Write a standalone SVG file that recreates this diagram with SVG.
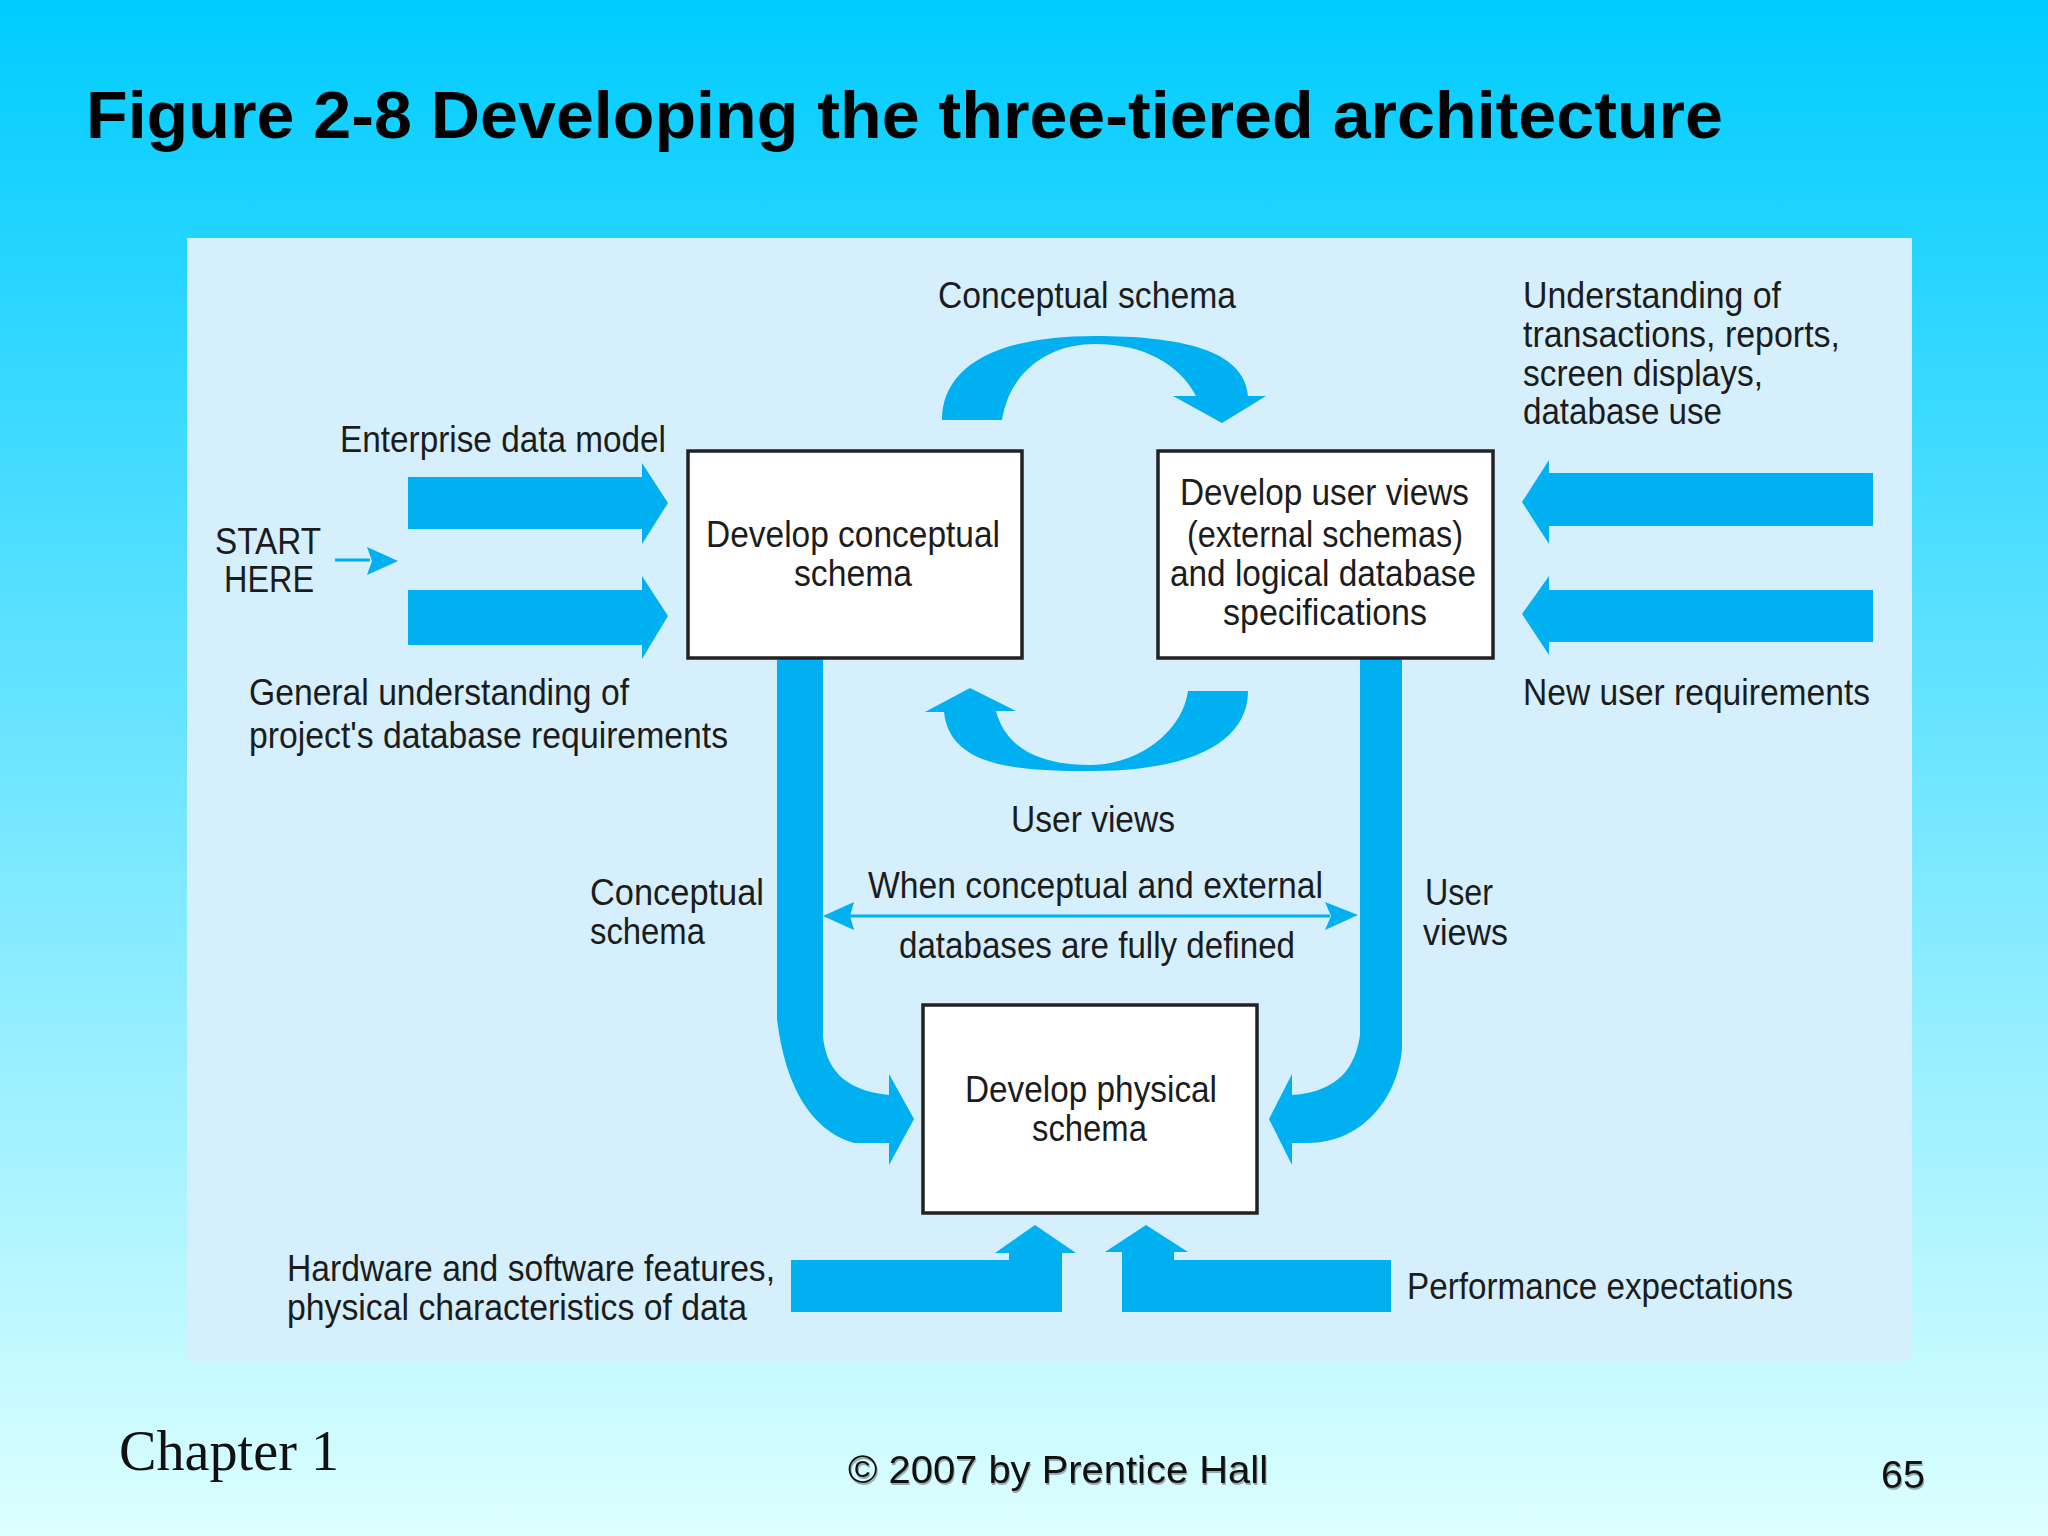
<svg xmlns="http://www.w3.org/2000/svg" width="2048" height="1536" viewBox="0 0 2048 1536">
<defs>
<linearGradient id="bg" x1="0" y1="0" x2="0" y2="1"><stop offset="0" stop-color="#00CCFF"/><stop offset="1" stop-color="#DDFFFF"/></linearGradient>
</defs>
<style>
.box{fill:#fff;stroke:#222;stroke-width:3.5}
.a{fill:#00B0F0;stroke:none}
.l{fill:none;stroke:#00B0F0;stroke-width:3}
text{font-family:"Liberation Sans",Arial,sans-serif;fill:#1c1c1c}
.t{font-size:36px}
.s{fill:#111;filter:drop-shadow(1px 2px 0 #9aa)}
</style>
<rect width="2048" height="1536" fill="url(#bg)"/>
<rect x="187" y="238" width="1725" height="1124" fill="#D5EFFD"/>
<text x="86" y="138" font-size="66" font-weight="700" style="fill:#000" textLength="1637" lengthAdjust="spacingAndGlyphs">Figure 2-8 Developing the three-tiered architecture</text>
<g id="connectors">
<path class="a" d="M408 477H642V463L668 503L642 544V529H408Z"/>
<path class="a" d="M408 590H642V576L668 616L642 659V645H408Z"/>
<path class="l" d="M335 560H370"/>
<path class="a" d="M367 547L398 561L367 575L372 561Z"/>
<path class="a" d="M1873 473H1549V460L1522 502L1549 544V526H1873Z"/>
<path class="a" d="M1873 590H1549V576L1522 614L1549 655V642H1873Z"/>
<path class="a" d="M942 420C942 370 990 336 1095 336C1180 336 1245 350 1248 396H1266L1222 423L1173 396H1196C1180 365 1145 344 1095 344C1050 344 1010 370 1002 420Z"/>
<path class="a" d="M1188 691H1248C1248 735 1205 771 1090 771C1010 771 950 765 944 712H925L970 688L1016 711H996C1005 745 1035 765 1090 765C1140 765 1183 730 1188 691Z"/>
<path class="a" d="M777 658H823V1037C826 1065 840 1090 889 1095V1074L914 1119L889 1165V1143H854C810 1130 785 1085 777 1019Z"/>
<path class="a" d="M1402 658H1360V1035C1356 1065 1340 1092 1292 1095V1074L1269 1119L1292 1165V1143H1307C1365 1143 1398 1095 1402 1049Z"/>
<path class="l" d="M850 916H1330"/>
<path class="a" d="M823 916L854 902L850 916L854 930Z"/>
<path class="a" d="M1358 915L1325 902L1331 916L1325 930Z"/>
<path class="a" d="M791 1260H1009V1253H995L1035 1225L1076 1253H1062V1312H791Z"/>
<path class="a" d="M1391 1260H1174V1252H1188L1146 1225L1105 1252H1122V1312H1391Z"/>
</g>
<g id="conceptual">
<rect class="box" x="688" y="451" width="334" height="207"/>
<text class="t" x="706" y="547" textLength="294" lengthAdjust="spacingAndGlyphs">Develop conceptual</text>
<text class="t" x="794" y="586" textLength="118" lengthAdjust="spacingAndGlyphs">schema</text>
</g>
<g id="userviews">
<rect class="box" x="1158" y="451" width="335" height="207"/>
<text class="t" x="1180" y="505" textLength="289" lengthAdjust="spacingAndGlyphs">Develop user views</text>
<text class="t" x="1187" y="547" textLength="276" lengthAdjust="spacingAndGlyphs">(external schemas)</text>
<text class="t" x="1170" y="586" textLength="306" lengthAdjust="spacingAndGlyphs">and logical database</text>
<text class="t" x="1223" y="625" textLength="204" lengthAdjust="spacingAndGlyphs">specifications</text>
</g>
<g id="physical">
<rect class="box" x="923" y="1005" width="334" height="208"/>
<text class="t" x="965" y="1102" textLength="252" lengthAdjust="spacingAndGlyphs">Develop physical</text>
<text class="t" x="1032" y="1141" textLength="115" lengthAdjust="spacingAndGlyphs">schema</text>
</g>
<g id="labels">
<text class="t" x="340" y="452" textLength="326" lengthAdjust="spacingAndGlyphs">Enterprise data model</text>
<text class="t" x="215" y="554" textLength="106" lengthAdjust="spacingAndGlyphs">START</text>
<text class="t" x="224" y="592" textLength="90" lengthAdjust="spacingAndGlyphs">HERE</text>
<text class="t" x="249" y="705" textLength="380" lengthAdjust="spacingAndGlyphs">General understanding of</text>
<text class="t" x="249" y="748" textLength="479" lengthAdjust="spacingAndGlyphs">project's database requirements</text>
<text class="t" x="938" y="308" textLength="298" lengthAdjust="spacingAndGlyphs">Conceptual schema</text>
<text class="t" x="1523" y="308" textLength="258" lengthAdjust="spacingAndGlyphs">Understanding of</text>
<text class="t" x="1523" y="347" textLength="317" lengthAdjust="spacingAndGlyphs">transactions, reports,</text>
<text class="t" x="1523" y="386" textLength="240" lengthAdjust="spacingAndGlyphs">screen displays,</text>
<text class="t" x="1523" y="424" textLength="199" lengthAdjust="spacingAndGlyphs">database use</text>
<text class="t" x="1523" y="705" textLength="347" lengthAdjust="spacingAndGlyphs">New user requirements</text>
<text class="t" x="1011" y="832" textLength="164" lengthAdjust="spacingAndGlyphs">User views</text>
<text class="t" x="590" y="905" textLength="174" lengthAdjust="spacingAndGlyphs">Conceptual</text>
<text class="t" x="590" y="944" textLength="115" lengthAdjust="spacingAndGlyphs">schema</text>
<text class="t" x="868" y="898" textLength="455" lengthAdjust="spacingAndGlyphs">When conceptual and external</text>
<text class="t" x="899" y="958" textLength="396" lengthAdjust="spacingAndGlyphs">databases are fully defined</text>
<text class="t" x="1425" y="905" textLength="68" lengthAdjust="spacingAndGlyphs">User</text>
<text class="t" x="1423" y="945" textLength="85" lengthAdjust="spacingAndGlyphs">views</text>
<text class="t" x="287" y="1281" textLength="488" lengthAdjust="spacingAndGlyphs">Hardware and software features,</text>
<text class="t" x="287" y="1320" textLength="460" lengthAdjust="spacingAndGlyphs">physical characteristics of data</text>
<text class="t" x="1407" y="1299" textLength="386" lengthAdjust="spacingAndGlyphs">Performance expectations</text>
</g>
<g id="footer">
<text x="119" y="1470" font-size="56" style="font-family:'Liberation Serif',serif;fill:#111" textLength="220" lengthAdjust="spacingAndGlyphs">Chapter 1</text>
<text class="s" x="848" y="1483" font-size="39" textLength="420" lengthAdjust="spacingAndGlyphs">© 2007 by Prentice Hall</text>
<text class="s" x="1881" y="1488" font-size="39" textLength="44" lengthAdjust="spacingAndGlyphs">65</text>
</g>
</svg>
